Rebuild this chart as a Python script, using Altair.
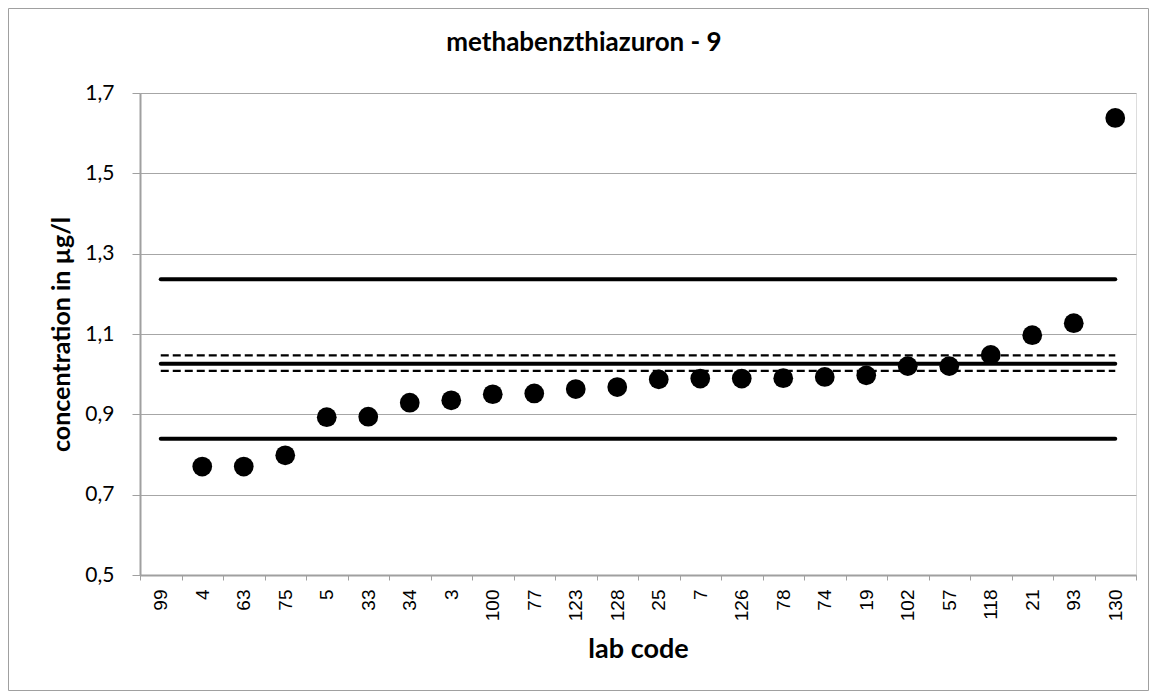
import altair as alt
import pandas as pd

chart_title = "methabenzthiazuron - 9"
labs = ["99", "4", "63", "75", "5", "33", "34", "3", "100", "77", "123", "128",
        "25", "7", "126", "78", "74", "19", "102", "57", "118", "21", "93", "130"]
values = [None, 0.770, 0.770, 0.798, 0.893, 0.894, 0.929, 0.935, 0.950, 0.952,
          0.963, 0.968, 0.987, 0.989, 0.989, 0.990, 0.993, 0.997, 1.020, 1.020,
          1.048, 1.097, 1.127, 1.638]

ref_names = ["upper limit", "upper unc", "assigned", "lower unc", "lower limit"]
ref_values = [1.236, 1.047, 1.026, 1.008, 0.839]
ref_dashed = [False, True, False, True, False]

pts = pd.DataFrame({"lab": labs, "value": values}).dropna()

rows = []
for n, v, d in zip(ref_names, ref_values, ref_dashed):
    rows.append({"name": n, "lab": labs[0], "value": v, "dashed": d})
    rows.append({"name": n, "lab": labs[-1], "value": v, "dashed": d})
refs = pd.DataFrame(rows)

x_enc = alt.X("lab:N", sort=labs, scale=alt.Scale(domain=labs, paddingInner=0, paddingOuter=0),
              axis=alt.Axis(title="lab code", labelAngle=-90, labelAlign="right", labelBaseline="middle",
                            labelFont="Liberation Sans", labelFontSize=19, labelColor="black",
                            labelPadding=9, tickBand="extent", tickColor="#a0a0a0", tickSize=5,
                            domainColor="#a0a0a0", domainWidth=2, grid=False,
                            titleFont="Lato", titleFontSize=27, titleFontWeight="bold",
                            titlePadding=16, titleColor="black"))
y_scale = alt.Scale(domain=[0.5, 1.7], nice=False, zero=False)
y_axis = alt.Axis(title="concentration in µg/l", values=[0.5, 0.7, 0.9, 1.1, 1.3, 1.5, 1.7],
                  labelExpr="replace(format(datum.value, '.1f'), '.', ',')",
                  labelFont="Lato", labelFontSize=21, labelColor="black", labelPadding=18,
                  tickColor="#a0a0a0", tickSize=8, domainColor="#a0a0a0", domainWidth=2,
                  gridColor="#a6a6a6", gridWidth=1,
                  titleFont="Lato", titleFontSize=25, titleFontWeight="bold",
                  titlePadding=10, titleColor="black")

solid = alt.Chart(refs[~refs["dashed"]]).mark_line(color="black", strokeWidth=4, strokeCap="round").encode(
    x=x_enc, y=alt.Y("value:Q", scale=y_scale, axis=y_axis), detail="name:N")
dashed = alt.Chart(refs[refs["dashed"]]).mark_line(color="black", strokeWidth=2.3, strokeDash=[8, 4]).encode(
    x=x_enc, y=alt.Y("value:Q", scale=y_scale, axis=y_axis), detail="name:N")
points = alt.Chart(pts).mark_circle(color="black", size=390, opacity=1).encode(
    x=x_enc, y=alt.Y("value:Q", scale=y_scale, axis=y_axis))
frame = alt.Chart(pd.DataFrame({"a": [0]})).mark_rect(fill=None, stroke="#a0a0a0", strokeWidth=1).encode(
    x=alt.value(-131.5), x2=alt.value(1008.5), y=alt.value(-84.5), y2=alt.value(597.5))
title = alt.Chart(pd.DataFrame({"t": [chart_title]})).mark_text(
    font="Lato", fontSize=26, fontWeight="bold", color="black", align="center", baseline="alphabetic"
).encode(text="t:N", x=alt.value(444), y=alt.value(-42))

chart = alt.layer(frame, solid, dashed, points, title).properties(
    width=996, height=482,
    autosize=alt.AutoSizeParams(type="none"),
    padding={"left": 132, "top": 85, "right": 13, "bottom": 116},
).configure_view(stroke=None).configure(background="white")

chart.save("out.html", embed_options={"renderer": "svg", "actions": False})
